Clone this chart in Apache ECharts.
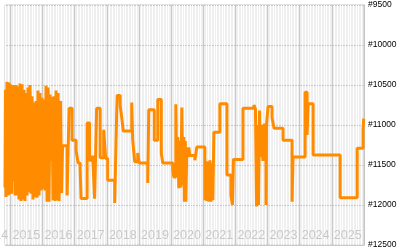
<!DOCTYPE html>
<html><head><meta charset="utf-8">
<script src="https://cdn.jsdelivr.net/npm/echarts@6/dist/echarts.min.js"></script>
<style>html,body{margin:0;padding:0;background:#fff}#c{width:400px;height:250px}</style>
</head><body><div id="c"></div>
<script>
// decimal years where the value changes (step line)
const years = [
2014.829,2014.844,2014.860,2014.891,2014.922,2014.953,2014.969,2015.000,2015.031,2015.062,
2015.078,2015.109,2015.140,2015.171,2015.203,2015.234,2015.265,2015.296,2015.327,2015.359,
2015.390,2015.421,2015.452,2015.483,2015.514,2015.546,2015.577,2015.608,2015.639,2015.670,
2015.702,2015.733,2015.764,2015.795,2015.826,2015.857,2015.889,2015.920,2015.951,2015.982,
2016.013,2016.045,2016.076,2016.107,2016.138,2016.169,2016.200,2016.232,2016.263,2016.294,
2016.325,2016.356,2016.388,2016.419,2016.450,2016.481,2016.512,
2016.528,2016.559,2016.590,2016.621,2016.762,2016.824,2016.917,2017.042,2017.104,2017.167,
2017.198,2017.385,2017.463,2017.557,2017.619,2017.681,2017.791,2017.900,2017.962,2018.025,
2018.243,2018.305,2018.321,2018.414,2018.461,2018.508,2018.773,2018.804,2018.866,2018.960,
2019.007,2019.272,2019.303,2019.474,2019.583,2019.693,2019.739,2020.051,2020.082,2020.145,
2020.176,2020.207,2020.238,2020.269,2020.300,2020.332,2020.363,2020.394,2020.410,2020.441,
2020.457,2020.488,2020.519,2020.550,2020.581,2020.737,2020.799,2021.049,2021.080,2021.111,
2021.142,2021.174,2021.205,2021.236,2021.267,2021.298,2021.329,2021.516,2021.735,2021.860,
2021.906,2021.938,2022.234,2022.577,2022.623,2022.655,2022.686,2022.717,2022.748,2022.779,
2022.811,2022.857,2022.873,2022.951,2022.966,2023.014,2023.139,2023.201,2023.481,2023.762,
2023.793,2024.167,2024.230,2024.261,2024.417,2025.258,2025.788,2025.970,2025.990,2026.000
];
const prices = [
11780,10560,11900,10460,11880,10470,11870,10490,11860,10510,
11700,10500,11880,10500,11880,10520,11930,10480,11950,10490,
11930,10560,11950,10600,11880,10530,11840,10500,11860,10640,
11930,10720,11900,10700,11910,10570,11880,10600,11820,10660,
11800,10680,11820,10510,11960,10530,11960,10620,11450,10650,
11940,10640,11950,10570,11940,10600,11950,
11940,10700,11850,11260,11880,10790,11190,11320,11475,11550,
11920,10975,11440,11380,11920,10790,11410,11060,11420,11690,
11975,10840,10630,10760,10900,11075,10720,11190,11460,11350,
11475,11725,10810,11190,10680,11350,11475,11560,11650,10740,
11650,11150,11790,11200,11780,10780,11750,11150,11960,11200,
11960,11280,11400,11280,11380,11440,11275,11940,11450,11950,
11460,11960,11440,11960,11480,11940,11090,10735,11625,11875,
12000,11430,10790,10750,10800,12020,11000,12000,10820,11400,
11000,11450,11000,12000,11000,10770,10910,11040,11190,11960,
11400,10590,11125,10735,11375,11910,11290,11050,10920,10920
];
const yTicks = [9500,10000,10500,11000,11500,12000,12500];
const yearTicks = [2014,2015,2016,2017,2018,2019,2020,2021,2022,2023,2024,2025,2026];

const W = 400, gl = 5, gr = 36, gt = 5, gb = 5;
const xMin = 2014.83, xMax = 2026;
const pxPerYear = (W - gl - gr) / (xMax - xMin);
const gl2 = gl - (xMin - yearTicks[0]) * pxPerYear;

const chart = echarts.init(document.getElementById('c'), null, {renderer:'canvas'});
chart.setOption({
  animation:false,
  grid:[
    {left:gl,right:gr,top:gt,bottom:gb,show:true,backgroundColor:'#efefef',borderColor:'#c4c4c4',borderWidth:1,outerBoundsMode:'none',containLabel:false},
    {left:gl2,right:gr,top:gt,bottom:gb,show:false,outerBoundsMode:'none',containLabel:false}
  ],
  xAxis:[
    {type:'value',gridIndex:0,min:xMin,max:xMax,show:false},
    {type:'value',gridIndex:1,min:yearTicks[0],max:yearTicks[yearTicks.length-1],interval:1,
     axisLine:{show:false},axisTick:{show:false},
     minorTick:{show:false,splitNumber:12},
     minorSplitLine:{show:true,lineStyle:{color:'#ffffff',width:1}},
     splitLine:{show:true,lineStyle:{color:'#c8c8c8',width:1}},
     axisLabel:{inside:true,showMaxLabel:false,hideOverlap:false,align:'left',verticalAlign:'bottom',margin:3,padding:[0,0,0,2],
       color:'#c8c8c8',fontSize:12.5,fontFamily:'Liberation Sans',formatter:v=>String(v)}}
  ],
  yAxis:[
    {type:'value',gridIndex:0,inverse:true,min:yTicks[0],max:yTicks[yTicks.length-1],interval:500,position:'right',
     axisLine:{show:true,lineStyle:{color:'#c4c4c4'}},axisTick:{show:false},
     splitLine:{show:true,lineStyle:{color:'#c8c8c8',width:1}},
     axisLabel:{margin:4,color:'#000',fontSize:8.5,fontFamily:'Liberation Sans',formatter:v=>'#'+v}},
    {type:'value',gridIndex:1,inverse:true,min:yTicks[0],max:yTicks[yTicks.length-1],show:false}
  ],
  series:[{
    type:'line',xAxisIndex:0,yAxisIndex:0,step:'end',showSymbol:false,
    data:years.map((y,i)=>[y,prices[i]]),
    lineStyle:{color:'#ff8c00',width:3},
    itemStyle:{color:'#ff8c00'},z:5
  }]
});
</script></body></html>
